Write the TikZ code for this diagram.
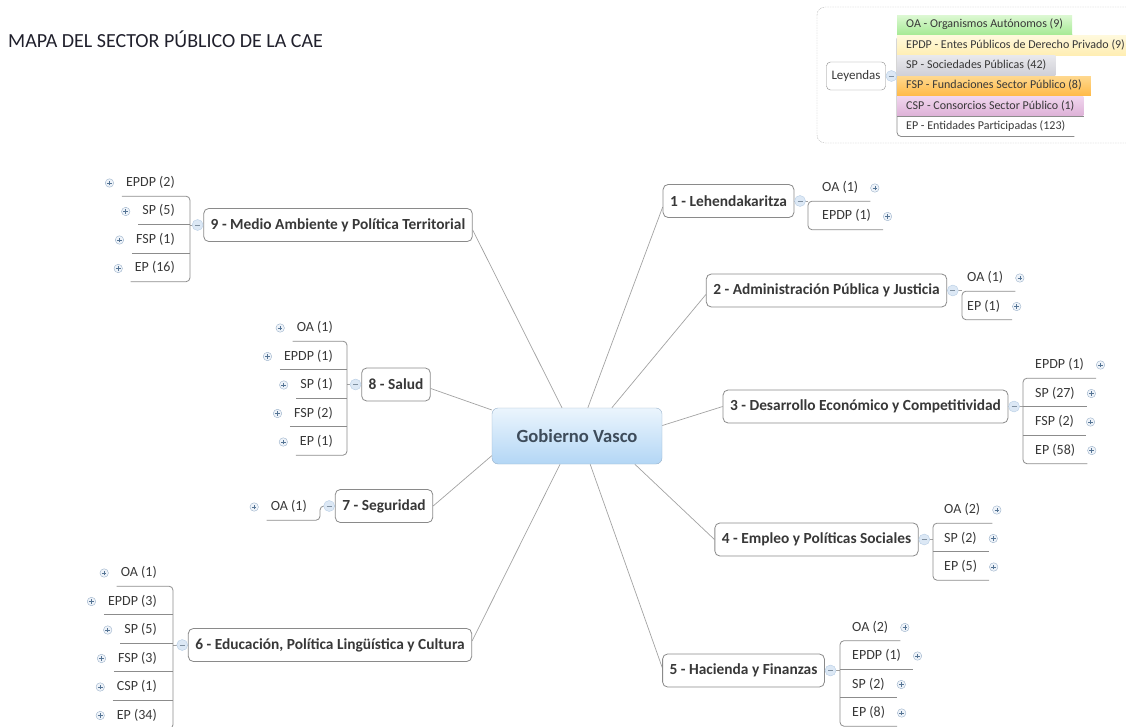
\documentclass[tikz,border=0pt]{standalone}
\usepackage{fontspec}
\setmainfont{Carlito}
\usetikzlibrary{positioning,backgrounds}

\definecolor{linegray}{HTML}{A2A2A2}
\definecolor{bargray}{HTML}{8C8C8C}
\definecolor{boxgray}{HTML}{8A8A8A}
\definecolor{txtgray}{HTML}{383838}
\definecolor{titletxt}{HTML}{20202C}
\definecolor{framegray}{HTML}{B4B4B4}
\definecolor{gvtop}{HTML}{EBF5FD}
\definecolor{gvbot}{HTML}{B3D6F5}
\definecolor{gvline}{HTML}{97B1CA}
\definecolor{gvtext}{HTML}{3E4C5B}
\definecolor{iconline}{HTML}{9DB3CB}
\definecolor{iconfill}{HTML}{EEF3F9}
\definecolor{iconplus}{HTML}{557494}
\definecolor{markline}{HTML}{B7CDE4}
\definecolor{markfill}{HTML}{DCE8F5}
\definecolor{oatop}{HTML}{DCF8D2}
\definecolor{oabot}{HTML}{A6EA95}
\definecolor{epdptop}{HTML}{FFF9DC}
\definecolor{epdpbot}{HTML}{FFEEB4}
\definecolor{sptop}{HTML}{E8E8EC}
\definecolor{spbot}{HTML}{D0D0D7}
\definecolor{fsptop}{HTML}{FFD88E}
\definecolor{fspbot}{HTML}{FFBA48}
\definecolor{csptop}{HTML}{F1D6EE}
\definecolor{cspbot}{HTML}{DDB1D7}

\tikzset{
  title/.style={anchor=base west, inner sep=0pt, text=titletxt, font=\fontsize{20}{24}\selectfont},
  center/.style={draw=gvline, top color=gvtop, bottom color=gvbot, rounded corners=6pt,
    minimum width=170pt, minimum height=56pt, text=gvtext, font=\fontsize{18.6}{22}\bfseries\selectfont},
  topic/.style={draw=boxgray, fill=white, rounded corners=5pt, line width=0.8pt,
    minimum height=33pt, inner xsep=7pt, text=txtgray, font=\fontsize{15.4}{18}\bfseries\selectfont},
  marker/.style={circle, draw=markline, fill=markfill, minimum size=11pt, inner sep=0pt,
    path picture={\draw[markline!70!black, line width=0.5pt]
      ([xshift=-2.5pt]path picture bounding box.center) -- ([xshift=2.5pt]path picture bounding box.center);}},
  rtopic/.style={topic, label distance=1.5pt, label={[marker]right:{}}},
  ltopic/.style={topic, label distance=1.5pt, label={[marker]left:{}}},
  plusicon/.style={circle, draw=iconline, fill=iconfill, minimum size=8.5pt, inner sep=0pt,
    path picture={\draw[iconplus, line width=0.6pt]
      ([xshift=-2.3pt]path picture bounding box.center) -- ([xshift=2.3pt]path picture bounding box.center)
      ([yshift=-2.3pt]path picture bounding box.center) -- ([yshift=2.3pt]path picture bounding box.center);}},
  leaf/.style={minimum height=26pt, inner ysep=0pt, inner xsep=12pt, text height=10pt, text depth=3pt,
    text=txtgray, font=\fontsize{14}{16}\selectfont},
  rleaf/.style={leaf, anchor=west, label distance=-4.25pt, label={[plusicon]right:{}}},
  lleaf/.style={leaf, anchor=east, label distance=-4.25pt, label={[plusicon]left:{}}},
  legtopic/.style={draw=boxgray, fill=white, rounded corners=4pt, minimum height=28pt, inner xsep=5pt,
    text=txtgray, font=\fontsize{13}{15}\selectfont, label distance=1.5pt, label={[marker]right:{}}},
  legrow/.style={anchor=west, minimum height=19.5pt, inner ysep=0pt, inner xsep=9pt,
    text height=8.5pt, text depth=2.5pt, text=txtgray, font=\fontsize{12}{14}\selectfont},
  legframe/.style={draw=framegray, dash pattern=on 1.5pt off 1pt, rounded corners=8pt},
  branch/.style={draw=linegray, line width=0.7pt},
  bracket/.style={draw=bargray, line width=0.8pt, rounded corners=4pt},
}

\begin{document}
\begin{tikzpicture}[x=1pt,y=-1pt,node distance=28.5pt,on grid]
  \useasboundingbox (0,0) rectangle (1126,727);
  \clip (0,0) rectangle (1126,727);

  \node[title] (title) at (8,48) {MAPA DEL SECTOR PÚBLICO DE LA CAE};

  % leyenda
  \draw[legframe] (817,7) rectangle (1160,143);
  \node[legtopic] (ley) at (856,76) {Leyendas};
  \begin{scope}[node distance=20.3pt]
    \node[legrow, top color=oatop, bottom color=oabot] (kOA) at (897,25) {OA - Organismos Autónomos (9)};
    \node (kEPDP) [below=of kOA.west, legrow, top color=epdptop, bottom color=epdpbot] {EPDP - Entes Públicos de Derecho Privado (9)};
    \node (kSP) [below=of kEPDP.west, legrow, top color=sptop, bottom color=spbot] {SP - Sociedades Públicas (42)};
    \node (kFSP) [below=of kSP.west, legrow, top color=fsptop, bottom color=fspbot] {FSP - Fundaciones Sector Público (8)};
    \node (kCSP) [below=of kFSP.west, legrow, top color=csptop, bottom color=cspbot] {CSP - Consorcios Sector Público (1)};
    \node (kEP) [below=of kCSP.west, legrow] {EP - Entidades Participadas (123)};
  \end{scope}

  % centro y ramas
  \node[center] (gv) at (577,436) {Gobierno Vasco};

  \node[rtopic] (t1) at (728.5,201) {1 - Lehendakaritza};
  \node[rtopic] (t2) at (826.5,290.5) {2 - Administración Pública y Justicia};
  \node[rtopic] (t3) at (865.5,406.5) {3 - Desarrollo Económico y Competitividad};
  \node[rtopic] (t4) at (816.5,539.5) {4 - Empleo y Políticas Sociales};
  \node[rtopic] (t5) at (743.5,670.5) {5 - Hacienda y Finanzas};
  \node[ltopic] (t6) at (330,645) {6 - Educación, Política Lingüística y Cultura};
  \node[ltopic] (t7) at (384,506) {7 - Seguridad};
  \node[ltopic] (t8) at (396,384.5) {8 - Salud};
  \node[ltopic] (t9) at (338,225) {9 - Medio Ambiente y Política Territorial};

  % hojas
  \coordinate (b1) at (808,201);
  \node[rleaf] (l1a) at (810,188) {OA (1)};
  \node (l1b) [below=of l1a.west, rleaf] {EPDP (1)};

  \coordinate (b2) at (962,290);
  \node[rleaf] (l2a) at (955,278) {OA (1)};
  \node (l2b) [below=of l2a.west, rleaf] {EP (1)};

  \coordinate (b3) at (1023,406);
  \node[rleaf] (l3a) at (1023,365) {EPDP (1)};
  \node (l3b) [below=of l3a.west, rleaf] {SP (27)};
  \node (l3c) [below=of l3b.west, rleaf] {FSP (2)};
  \node (l3d) [below=of l3c.west, rleaf] {EP (58)};

  \coordinate (b4) at (933,539);
  \node[rleaf] (l4a) at (932,510) {OA (2)};
  \node (l4b) [below=of l4a.west, rleaf] {SP (2)};
  \node (l4c) [below=of l4b.west, rleaf] {EP (5)};

  \coordinate (b5) at (840,670);
  \node[rleaf] (l5a) at (840,627.5) {OA (2)};
  \node (l5b) [below=of l5a.west, rleaf] {EPDP (1)};
  \node (l5c) [below=of l5b.west, rleaf] {SP (2)};
  \node (l5d) [below=of l5c.west, rleaf] {EP (8)};

  \coordinate (b6) at (173,645);
  \node[lleaf] (l6a) at (169,573) {OA (1)};
  \node (l6b) [below=of l6a.east, lleaf] {EPDP (3)};
  \node (l6c) [below=of l6b.east, lleaf] {SP (5)};
  \node (l6d) [below=of l6c.east, lleaf] {FSP (3)};
  \node (l6e) [below=of l6d.east, lleaf] {CSP (1)};
  \node (l6f) [below=of l6e.east, lleaf] {EP (34)};

  \coordinate (b7) at (320,506);
  \node[lleaf] (l7a) at (319,507) {OA (1)};

  \coordinate (b8) at (347,384);
  \node[lleaf] (l8a) at (345,328) {OA (1)};
  \node (l8b) [below=of l8a.east, lleaf] {EPDP (1)};
  \node (l8c) [below=of l8b.east, lleaf] {SP (1)};
  \node (l8d) [below=of l8c.east, lleaf] {FSP (2)};
  \node (l8e) [below=of l8d.east, lleaf] {EP (1)};

  \coordinate (b9) at (190,225);
  \node[lleaf] (l9a) at (187,183) {EPDP (2)};
  \node (l9b) [below=of l9a.east, lleaf] {SP (5)};
  \node (l9c) [below=of l9b.east, lleaf] {FSP (1)};
  \node (l9d) [below=of l9c.east, lleaf] {EP (16)};

  \begin{scope}[on background layer]
    % conectores del centro
    \draw[branch] (gv.69) -- ([yshift=-6pt]t1.west);
    \draw[branch] (gv.39) -- ([yshift=-4pt]t2.west);
    \draw[branch] (gv.7) -- (t3.west);
    \draw[branch] (gv.334) -- (t4.west);
    \draw[branch] (gv.295) -- ([yshift=3pt]t5.west);
    \draw[branch] (gv.239) -- ([yshift=4pt]t6.east);
    \draw[branch] (gv.193) -- (t7.east);
    \draw[branch] (gv.163) -- ([yshift=-4pt]t8.east);
    \draw[branch] (gv.118) -- ([yshift=-5pt]t9.east);

    % leyenda
    \draw[branch] (ley.east) -- (ley.east -| kOA.west);
    \draw[bracket] (kOA.south east) -- (kOA.south west) -- (kEP.south west) -- (kEP.south east);
    \foreach \n in {kEPDP,kSP,kFSP,kCSP}
      \draw[bracket] (\n.south west) -- (\n.south east);

    % ramas derecha
    \draw[branch] (t1.east) -- (t1.east -| b1);
    \draw[bracket] (l1a.south east) -- (b1 |- l1a.south) -- (b1 |- l1b.south) -- (l1b.south east);

    \draw[branch] (t2.east) -- (t2.east -| b2);
    \draw[bracket] (l2a.south east) -- (b2 |- l2a.south) -- (b2 |- l2b.south) -- (l2b.south east);

    \draw[branch] (t3.east) -- (t3.east -| b3);
    \draw[bracket] (l3a.south east) -- (b3 |- l3a.south) -- (b3 |- l3d.south) -- (l3d.south east);
    \foreach \n in {l3b,l3c}
      \draw[bracket] (b3 |- \n.south) -- (\n.south east);

    \draw[branch] (t4.east) -- (t4.east -| b4);
    \draw[bracket] (l4a.south east) -- (b4 |- l4a.south) -- (b4 |- l4c.south) -- (l4c.south east);
    \draw[bracket] (b4 |- l4b.south) -- (l4b.south east);

    \draw[branch] (t5.east) -- (t5.east -| b5);
    \draw[bracket] (l5a.south east) -- (b5 |- l5a.south) -- (b5 |- l5d.south) -- (l5d.south east);
    \foreach \n in {l5b,l5c}
      \draw[bracket] (b5 |- \n.south) -- (\n.south east);

    % ramas izquierda
    \draw[branch] (t6.west) -- (t6.west -| b6);
    \draw[bracket] ([xshift=8pt]l6a.south west) -- (b6 |- l6a.south) -- (b6 |- l6f.south) -- ([xshift=8pt]l6f.south west);
    \foreach \n in {l6b,l6c,l6d,l6e}
      \draw[bracket] ([xshift=8pt]\n.south west) -- (b6 |- \n.south);

    \draw[bracket] ([xshift=8pt]l7a.south west) -- (b7 |- l7a.south) -- (b7 |- t7.west) -- (t7.west);

    \draw[branch] (t8.west) -- (t8.west -| b8);
    \draw[bracket] ([xshift=8pt]l8a.south west) -- (b8 |- l8a.south) -- (b8 |- l8e.south) -- ([xshift=8pt]l8e.south west);
    \foreach \n in {l8b,l8c,l8d}
      \draw[bracket] ([xshift=8pt]\n.south west) -- (b8 |- \n.south);

    \draw[branch] (t9.west) -- (t9.west -| b9);
    \draw[bracket] ([xshift=8pt]l9a.south west) -- (b9 |- l9a.south) -- (b9 |- l9d.south) -- ([xshift=8pt]l9d.south west);
    \foreach \n in {l9b,l9c}
      \draw[bracket] ([xshift=8pt]\n.south west) -- (b9 |- \n.south);
  \end{scope}
\end{tikzpicture}
\end{document}
